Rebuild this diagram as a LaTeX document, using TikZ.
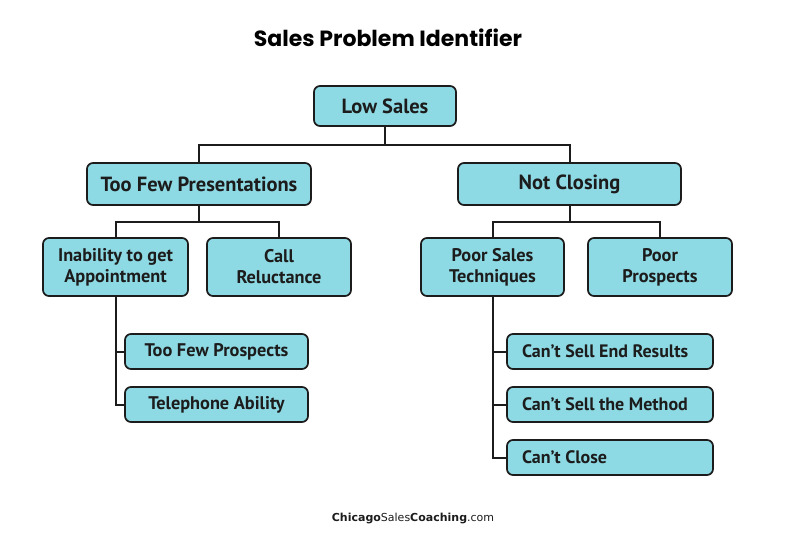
\documentclass[tikz,border=0pt]{standalone}
\usepackage{fontspec}
\setmainfont{PT Sans}
\newfontfamily\titlefont{Poppins}
\newfontfamily\urlfont{DejaVu Sans}
\usetikzlibrary{positioning}
\definecolor{boxcyan}{RGB}{142,218,228}
\definecolor{boxline}{RGB}{28,28,28}

\begin{document}
\begin{tikzpicture}[x=1pt,y=1pt,
  box/.style={draw=boxline, line width=1.7pt, fill=boxcyan, rounded corners=6pt, outer sep=0pt,
    font=\bfseries\fontsize{18.3}{21}\selectfont, text=boxline, align=center, inner sep=0pt},
  headbox/.style={box, font=\bfseries\fontsize{20.5}{24}\selectfont},
  leaf/.style={box, minimum width=183pt, minimum height=35pt},
  leafl/.style={box, font=\bfseries\fontsize{18}{21}\selectfont, minimum height=35pt,
    text width=176pt, align=flush left, inner xsep=15pt},
  link/.style={line width=2pt, boxline}]
  \useasboundingbox (0,0) rectangle (786,-535);
  \node[font=\titlefont\bfseries\fontsize{22}{26}\selectfont] (title) at (388,-38) {Sales Problem Identifier};

  \node[headbox, minimum width=142pt, minimum height=40pt] (low) at (385,-106) {Low Sales};
  \node[headbox, minimum width=224pt, minimum height=42pt] (tfp) [below=37pt of low, xshift=-186pt] {Too Few Presentations};
  \node[headbox, minimum width=223pt, minimum height=42pt] (nc) [below=37pt of low, xshift=184.5pt] {Not Closing};

  \node[box, minimum width=145pt, minimum height=58pt] (inab) [below=33pt of tfp, xshift=-83.5pt] {Inability to get\\Appointment};
  \node[box, minimum width=144pt, minimum height=58pt] (call) [below=33pt of tfp, xshift=80pt] {Call\\Reluctance};
  \node[box, minimum width=143pt, minimum height=58pt] (pst) [below=33pt of nc, xshift=-77pt] {Poor Sales\\Techniques};
  \node[box, minimum width=144pt, minimum height=58pt] (pp) [below=33pt of nc, xshift=90.5pt] {Poor\\Prospects};

  \node[leaf] (tfew) [below=38pt of inab, xshift=101pt] {Too Few Prospects};
  \node[leaf] (tel) [below=18pt of tfew] {Telephone Ability};

  \node[leafl] (cser) [below=38pt of pst, xshift=117.5pt] {Can’t Sell End Results};
  \node[leafl] (csm) [below=18pt of cser] {Can’t Sell the Method};
  \node[leafl] (cc) [below=18pt of csm] {Can’t Close};

  \node[font=\urlfont\fontsize{11}{13}\selectfont, text=boxline] (url) at (413,-519) {\textbf{Chicago}Sales\textbf{Coaching}.com};

  % tree lines
  \draw[link] (low.south) -- ++(0,-19) -| (tfp.north);
  \draw[link] (low.south) -- ++(0,-19) -| (nc.north);
  \draw[link] (tfp.south) -- ++(0,-17) -| (inab.north);
  \draw[link] (tfp.south) -- ++(0,-17) -| (call.north);
  \draw[link] (nc.south) -- ++(0,-17) -| (pst.north);
  \draw[link] (nc.south) -- ++(0,-17) -| (pp.north);
  \draw[link] (inab.south) |- (tfew.west);
  \draw[link] (inab.south) |- (tel.west);
  \draw[link] (pst.south) |- (cser.west);
  \draw[link] (pst.south) |- (csm.west);
  \draw[link] (pst.south) |- (cc.west);
\end{tikzpicture}
\end{document}
